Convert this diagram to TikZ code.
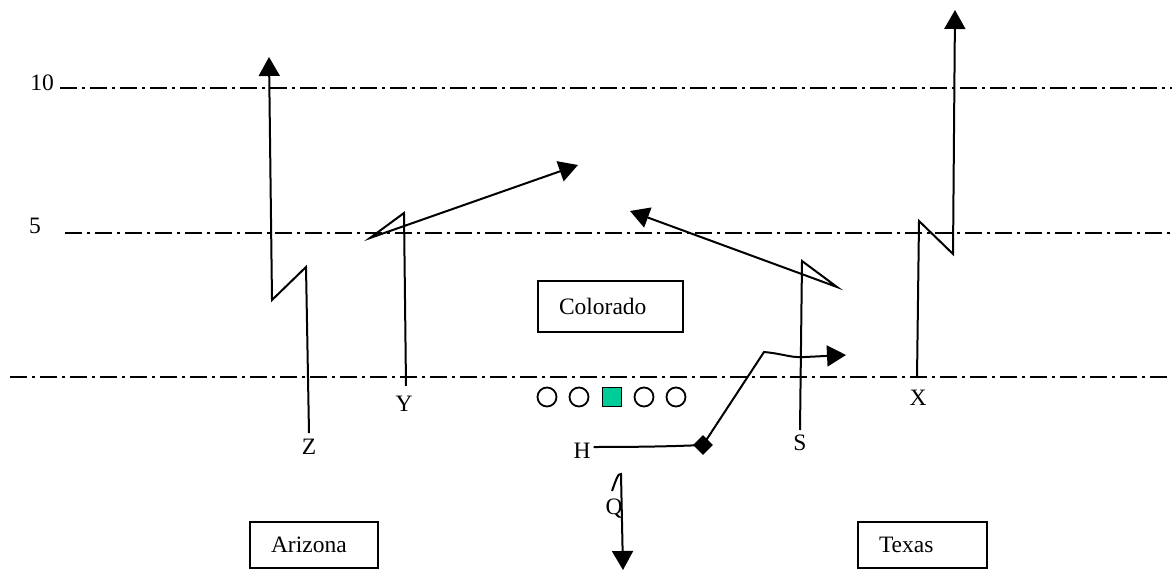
\documentclass[tikz,border=0pt]{standalone}
\usepackage{fontspec}
\setmainfont{Liberation Serif}
\usetikzlibrary{arrows.meta}
\definecolor{centerfill}{RGB}{0,204,153}
\begin{document}
\begin{tikzpicture}[x=1pt,y=-1pt,
  yardline/.style={line width=2.2pt, dash pattern=on 17pt off 5pt on 3pt off 5pt},
  route/.style={line width=2pt, line join=miter},
  routearrow/.style={route, -{Triangle[length=19pt,width=21pt]}},
  lbl/.style={font=\fontsize{23.5}{27}\selectfont, inner sep=0pt},
  team/.style={draw, line width=2pt, font=\fontsize{23.5}{27}\selectfont,
    align=left, inner xsep=21pt, inner ysep=0pt},
  lineman/.style={circle, draw, line width=1.8pt, minimum size=19pt, inner sep=0pt},
  centerman/.style={rectangle, draw, line width=1.8pt, fill=centerfill,
    minimum size=19pt, inner sep=0pt},
  back/.style={rectangle, fill=black, minimum size=14pt, inner sep=0pt, rotate=45}
]
\useasboundingbox (0,0) rectangle (1172,572);

% yard lines and their markers
\node[lbl] (ten) at (42,83) {10};
\node[lbl] (five) at (35,226) {5};
\coordinate (tenL) at (60,88);   \coordinate (tenR) at (1172,88);
\coordinate (fiveL) at (65,233); \coordinate (fiveR) at (1172,233);
\coordinate (losL) at (10,377);  \coordinate (losR) at (1172,377);
\draw[yardline] (tenL) -- (tenR);
\draw[yardline] (fiveL) -- (fiveR);
\draw[yardline] (losL) -- (losR);

% offensive line
\node[lineman] (lt) at (547,397) {};
\node[lineman] (lg) at (579,397) {};
\node[centerman] (c) at (612,397) {};
\node[lineman] (rg) at (644,397) {};
\node[lineman] (rt) at (676,397) {};

% team boxes
\node[team, text width=103pt, minimum height=51pt] (colorado) at (610.5,306.5) {Colorado};
\node[team, text width=86pt, minimum height=46pt] (arizona) at (314,545) {Arizona};
\node[team, text width=87pt, minimum height=46pt] (texas) at (922.5,545) {Texas};

% player labels
\node[lbl] (Z) at (309,447) {Z};
\node[lbl] (Y) at (404,404) {Y};
\node[lbl] (S) at (800,443) {S};
\node[lbl] (X) at (918,398) {X};
\node[lbl] (H) at (582,451) {H};
\node[lbl] (Q) at (614,509) {Q};
\node[back] (hb) at (703,445) {};

% Z route
\coordinate (z0) at (309,433); \coordinate (z1) at (306,267);
\coordinate (z2) at (272,300); \coordinate (z3) at (269,57);
\draw[routearrow] (z0) -- (z1) -- (z2) -- (z3);

% Y route
\coordinate (y0) at (406,386); \coordinate (y1) at (404,213);
\coordinate (y2) at (370,238); \coordinate (y3) at (578,165);
\draw[routearrow] (y0) -- (y1) -- (y2) -- (y3);

% S route
\coordinate (s0) at (800,430); \coordinate (s1) at (802,261);
\coordinate (s2) at (837,287); \coordinate (s3) at (630,211);
\draw[routearrow] (s0) -- (s1) -- (s2) -- (s3);

% X route
\coordinate (x0) at (917,378); \coordinate (x1) at (919,221);
\coordinate (x2) at (953,254); \coordinate (x3) at (955,10);
\draw[routearrow] (x0) -- (x1) -- (x2) -- (x3);

% H motion and route
\coordinate (h1) at (764,352); \coordinate (h2) at (805,357);
\coordinate (h3) at (846,355);
\draw[route] (H.east) ++(3,-4) .. controls (650,447) and (680,446) .. (hb.center);
\draw[routearrow] (hb.center) -- (h1) .. controls (785,354) and (790,358) .. (h2) -- (h3);

% Q drop
\coordinate (q0) at (612,491); \coordinate (q1) at (621,474);
\coordinate (q2) at (623,570);
\draw[routearrow] (q0) .. controls (616,480) and (618,473) .. (q1) -- (q2);
\end{tikzpicture}
\end{document}
